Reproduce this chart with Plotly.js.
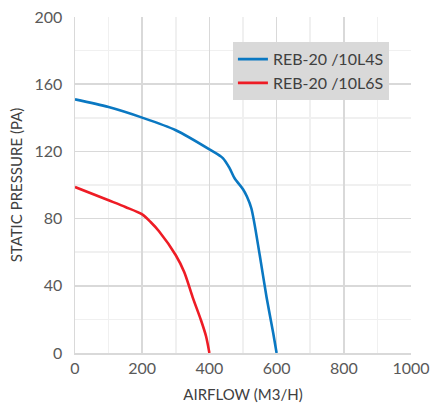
<!DOCTYPE html>
<html><head><meta charset="utf-8">
<script src="https://cdn.plot.ly/plotly-3.0.1.min.js"></script>
<style>html,body{margin:0;padding:0;background:#fff}#chart{width:433px;height:408px}</style>
</head><body><div id="chart"></div>
<script>
const seriesNames = ["REB-20 /10L4S", "REB-20 /10L6S"];
const blueX = [0, 100, 200, 300, 400, 440, 460, 475, 500, 512, 525, 550, 570, 590, 600];
const blueY = [151, 146.4, 140.1, 132.6, 121.2, 116, 110, 104, 97.5, 93, 86, 58, 33.3, 11.7, 0];
const redX = [0, 100, 150, 200, 225, 250, 300, 325, 350, 375, 390, 400];
const redY = [98.8, 90.9, 86.9, 82.5, 78, 72.5, 58.2, 48.2, 33.3, 19.5, 10, 0];
const xTicks = [0, 200, 400, 600, 800, 1000];
const yTicks = [0, 40, 80, 120, 160, 200];

const font = "Lato, 'Open Sans', sans-serif";
const traces = [
  {x: blueX, y: blueY, name: seriesNames[0], mode: "lines", line: {color: "#0a78c2", width: 2.6, shape: "spline", smoothing: 0.8}},
  {x: redX, y: redY, name: seriesNames[1], mode: "lines", line: {color: "#ee1c25", width: 2.6, shape: "spline", smoothing: 0.8}}
];
const layout = {
  width: 433, height: 408,
  margin: {l: 75, r: 22, t: 17, b: 55},
  paper_bgcolor: "#fff", plot_bgcolor: "#fff",
  font: {family: font, size: 16, color: "#595959"},
  showlegend: true,
  legend: {x: 0.47, y: 0.925, xanchor: "left", yanchor: "top", bgcolor: "#d9d9d9",
           font: {family: font, size: 16, color: "#404040"}, itemwidth: 30, tracegroupgap: 0},
  xaxis: {range: [0, 1000], tickvals: xTicks, ticktext: xTicks.map(String), showgrid: true,
          gridcolor: "#d9d9d9", gridwidth: 1.5, zeroline: false, showline: true, linecolor: "#d9d9d9", linewidth: 1.5,
          mirror: false, ticks: "", fixedrange: true,
          minor: {dtick: 100, showgrid: true, gridcolor: "#f0f0f0", gridwidth: 1.5},
          title: {text: "AIRFLOW (M3/H)", font: {family: font, size: 15, color: "#404040"}, standoff: 14}},
  yaxis: {range: [0, 200], tickvals: yTicks, ticktext: yTicks.map(String), showgrid: true,
          gridcolor: "#d9d9d9", gridwidth: 1.5, zeroline: false, showline: true, linecolor: "#d9d9d9", linewidth: 1.5,
          ticks: "", ticklabelstandoff: 8, fixedrange: true,
          minor: {dtick: 20, showgrid: true, gridcolor: "#f0f0f0", gridwidth: 1.5},
          title: {text: "STATIC PRESSURE (PA)", font: {family: font, size: 15, color: "#404040"}, standoff: 8}}
};
Plotly.newPlot("chart", traces, layout, {displayModeBar: false, staticPlot: true});
</script></body></html>
